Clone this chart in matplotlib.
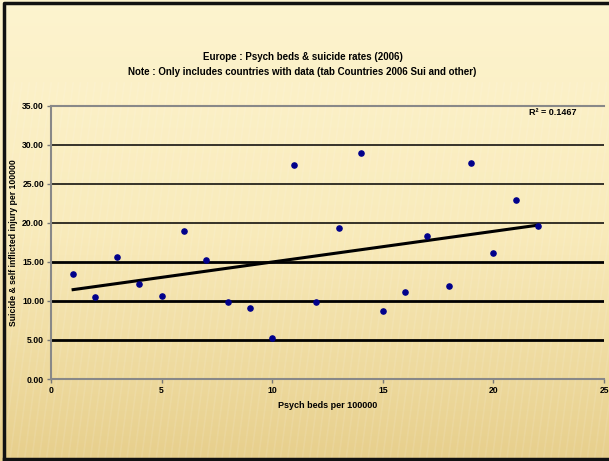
import numpy as np
import matplotlib.pyplot as plt
from matplotlib.colors import LinearSegmentedColormap

plt.rcParams['font.family'] = ['Liberation Sans', 'DejaVu Sans']

# данные
beds = [1, 2, 3, 4, 5, 6, 7, 8, 9, 10, 11,
        12, 13, 14, 15, 16, 17, 18, 19, 20, 21, 22]
suicide = [13.4, 10.5, 15.6, 12.2, 10.6, 19.0, 15.3, 9.8, 9.1, 5.2, 27.35,
           9.8, 19.3, 29.0, 8.7, 11.2, 18.25, 11.9, 27.7, 16.15, 22.9, 19.6]
yticks = [0, 5, 10, 15, 20, 25, 30, 35]
xticks = [0, 5, 10, 15, 20, 25]

x = np.array(beds, dtype=float)
y = np.array(suicide, dtype=float)
k, b = np.polyfit(x, y, 1)

fig = plt.figure(figsize=(6.09, 4.61), dpi=100)

# фон
bg = fig.add_axes([0, 0, 1, 1])
grad = np.linspace(0, 1, 256).reshape(-1, 1)
cmap = LinearSegmentedColormap.from_list('bg', ['#fdf4cf', '#f9ebbb', '#e7cf8c'])
bg.imshow(grad, aspect='auto', cmap=cmap, extent=[0, 1, 0, 1], origin='upper')
# полоски
for s in np.arange(-0.5, 1.5, 0.012):
    bg.plot([s, s + 0.08], [0, 0.82], color='white', alpha=0.10, lw=1.2)
bg.set_xlim(0, 1)
bg.set_ylim(0, 1)
bg.plot([0.006, 0.006, 1.0], [0.005, 0.994, 0.994], color='#111111', lw=2.5)
bg.plot([0.006, 1.0], [0.005, 0.005], color='#111111', lw=2.5)
bg.axis('off')

ax = fig.add_axes([51 / 609, 1 - 379 / 461, 553 / 609, 273.3 / 461])
ax.set_facecolor('none')
ax.set_xlim(0, 25)
ax.set_ylim(0, 35)

for v in [5, 10, 15]:
    ax.axhline(v, color='black', lw=2.0, zorder=1)
for v in [20, 25, 30]:
    ax.axhline(v, color='black', lw=1.1, zorder=1)

ax.scatter(x, y, s=14, color='#00008b', marker='o', zorder=3)
ax.plot([x.min(), x.max()], [k * x.min() + b, k * x.max() + b], color='black', lw=2.2, zorder=2)

ax.set_xticks(xticks)
ax.set_xticklabels([str(t) for t in xticks])
ax.set_yticks(yticks)
ax.set_yticklabels(['%.2f' % t for t in yticks])
ax.tick_params(labelsize=6.2, length=3, width=1, color='#777777', pad=2)
for lbl in ax.get_xticklabels() + ax.get_yticklabels():
    lbl.set_fontweight('bold')

for side in ['left', 'bottom', 'top']:
    ax.spines[side].set_color('#888888')
    ax.spines[side].set_linewidth(1.5)
ax.spines['right'].set_visible(False)

ax.set_xlabel('Psych beds per 100000', fontsize=6.5, fontweight='bold', labelpad=4)
ax.set_ylabel('Suicide & self inflicted injury per 100000', fontsize=6.2, fontweight='bold')
ax.yaxis.set_label_coords(-0.06, 0.5)

ax.text(21.6, 33.8, 'R² = 0.1467', fontsize=6.5, fontweight='bold')

fig.text(0.497, 1 - 57 / 461, 'Europe : Psych beds & suicide rates (2006)', ha='center', va='center',
         fontsize=7, fontweight='bold')
fig.text(0.497, 1 - 72 / 461, 'Note : Only includes countries with data (tab Countries 2006 Sui and other)',
         ha='center', va='center', fontsize=7, fontweight='bold')

fig.savefig('out.png', dpi=100)
